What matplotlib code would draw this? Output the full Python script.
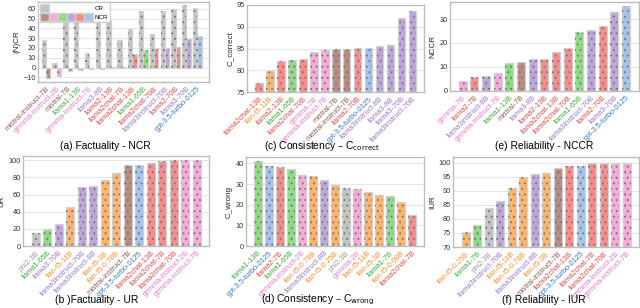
import numpy as np
import matplotlib
matplotlib.use('Agg')
import matplotlib.pyplot as plt
from matplotlib.patches import Patch
from matplotlib.legend_handler import HandlerTuple

plt.rcParams['font.family'] = ['Liberation Sans', 'DejaVu Sans']
plt.rcParams['hatch.linewidth'] = 0.7

# bar fill / label colour per model family
bar_col = {'mistral': '#b98c82', 'gemma': '#f5aad7', 'llama1': '#8cdc82',
           'llama2': '#f88c8c', 'llama3': '#bea5dc', 'flan': '#ffb46e',
           'gpt': '#a5c3eb', 'phi': '#c4c4c4'}
txt_col = {'mistral': '#8c5a4e', 'gemma': '#e67ac8', 'llama1': '#3caa3c',
           'llama2': '#e34848', 'llama3': '#9678c8', 'flan': '#ff8c28',
           'gpt': '#3278c8', 'phi': '#999999'}


def fam(name):
    for k in ['mistral', 'gemma', 'llama1', 'llama2', 'llama3', 'flan', 'gpt', 'phi']:
        if name.startswith(k):
            return k
    return 'phi'


# ----- data -----
a_models = ['mistral-instruct-7B', 'gemma-instruct-2B', 'mistral-7B', 'llama1-13B',
            'gemma-instruct-7B', 'llama3-8B', 'llama2-13B', 'llama2chat-7B',
            'llama2chat-13B', 'llama1-65B', 'llama2chat-70B', 'llama3instruct-70B',
            'llama2-70B', 'llama3-70B', 'gpt-3.5-turbo-0125']
a_cr = [28.5, 4.5, 47, 47.5, 14.5, 48, 49, 28, 39.5, 57.5, 34.5, 58, 59.5, 63.5, 61]
a_ncr = [-11, -9, -3.5, -2.5, -2, -1, 1, 1, 14, 18, 19.5, 20, 21.5, 29.5, 32]

b_models = ['phi2-3B', 'llama1-65B', 'llama3-70B', 'flan-t5-11B', 'llama3instruct-70B',
            'llama3instruct-8B', 'flan-t5-3B', 'flan-t5-0.78B', 'mistral-instruct-7B',
            'gpt-3.5-turbo-0125', 'llama2chat-13B', 'llama2chat-7B', 'llama2chat-70B',
            'gemma-instruct-2B', 'gemma-instruct-7B']
b_ur = [15, 19.5, 26, 45.5, 68.5, 69.5, 76.5, 85.5, 94, 95, 96.5, 99, 99.8, 100, 100]

c_models = ['llama2chat-13B', 'flan-t5-11B', 'llama2-13B', 'llama1-65B', 'llama2chat-70B',
            'gemma-7B', 'gemma-instruct-7B', 'mistral-7B', 'mistral-instruct-7B',
            'llama2-70B', 'gpt-3.5-turbo-0125', 'llama3instruct-8B', 'llama3-8B',
            'llama3-70B', 'llama3instruct-70B']
c_correct = [77, 79.9, 82.1, 82.4, 82.5, 84.3, 84.7, 84.9, 85.0, 85.1, 85.2, 85.5, 85.9, 92.1, 93.6]

d_models = ['llama1-13B', 'gpt-3.5-turbo-0125', 'llama2-7B', 'llama1-65B',
            'gemma-instruct-2B', 'flan-t5-0.78B', 'llama3instruct-8B', 'flan-t5-0.25B',
            'phi2-3B', 'gemma-2B', 'flan-t5-11B', 'flan-t5-3B', 'llama1-7B',
            'flan-t5-0.08B', 'llama2chat-7B']
d_wrong = [41, 38.6, 38.1, 37.2, 34.2, 34, 31.9, 29.4, 28.2, 27.4, 26.4, 24.6, 24.3, 21.1, 15.2]

e_models = ['gemma-7B', 'llama2-7B', 'llama3instruct-8B', 'gemma-instruct-7B',
            'llama1-13B', 'mistral-7B', 'llama3-8B', 'llama2-13B', 'llama2chat-13B',
            'llama2chat-70B', 'llama1-65B', 'llama3instruct-70B', 'llama2-70B',
            'llama3-70B', 'gpt-3.5-turbo-0125']
e_nccr = [4, 5.6, 6.4, 7.6, 11.8, 12, 13.1, 13.3, 16.1, 17.8, 24.4, 25.6, 27.2, 33.1, 35.4]

f_models = ['flan-t5-0.25B', 'llama1-7B', 'phi2-3B', 'llama3instruct-70B', 'flan-t5-11B',
            'flan-t5-0.78B', 'llama3instruct-8B', 'flan-t5-3B', 'mistral-instruct-7B',
            'llama2chat-13B', 'gpt-3.5-turbo-0125', 'llama2chat-7B', 'llama2chat-70B',
            'gemma-instruct-2B', 'gemma-instruct-7B']
f_iur = [75.3, 78, 83.8, 86.4, 91, 95, 96, 96.2, 98, 98.8, 99, 99.9, 99.9, 99.9, 99.9]


fig = plt.figure(figsize=(6.4, 3.08), dpi=100)
fs = 5.3


def style(ax, models, ylabel):
    x = np.arange(len(models))
    ax.tick_params(length=0, pad=1.5, labelsize=fs, labelcolor='#333333')
    ax.tick_params(axis='x', pad=2.5)
    ax.set_xticks(x)
    ax.set_xticklabels(models, rotation=45, ha='right', rotation_mode='anchor', fontsize=5.3)
    for lab, m in zip(ax.get_xticklabels(), models):
        lab.set_color(txt_col[fam(m)])
    ax.set_ylabel(ylabel, fontsize=5.8, labelpad=2, color='#222222')
    ax.grid(axis='y', color='#e6e6e6', lw=0.7, zorder=0)
    ax.set_axisbelow(True)
    for s in ax.spines.values():
        s.set_color('#bdbdbd')
        s.set_linewidth(1.0)


def dotbars(ax, x, vals, cols, w):
    ax.bar(x, vals, w, color=cols, edgecolor='#d2d2d2', linewidth=0.9, zorder=2)
    ax.bar(x, vals, w, color='none', edgecolor='#7a7a7a', hatch='...', linewidth=0, zorder=3)


def simple(rect, models, vals, ylabel, ylim=None, yticks=None):
    ax = fig.add_axes(rect)
    x = np.arange(len(models))
    dotbars(ax, x, vals, [bar_col[fam(m)] for m in models], 0.7)
    style(ax, models, ylabel)
    if ylim is not None:
        ax.set_ylim(*ylim)
    if yticks is not None:
        ax.set_yticks(yticks)
    return ax


# (a) factuality - NCR
axa = fig.add_axes([0.059, 0.734, 0.267, 0.26])
xa = np.arange(len(a_models))
dotbars(axa, xa - 0.2, a_cr, '#c4c4c4', 0.4)
dotbars(axa, xa + 0.2, a_ncr, [bar_col[fam(m)] for m in a_models], 0.4)
style(axa, a_models, '(N)CR')
axa.set_xlim(-0.75, 15.05)
axa.set_yticks([-10, 0, 10, 20, 30, 40, 50, 60])
nul = Patch(facecolor='none', edgecolor='none')
g = Patch(facecolor='#c4c4c4', edgecolor='#d2d2d2')
cps = tuple(Patch(facecolor=bar_col[k], edgecolor='#d2d2d2')
            for k in ['mistral', 'gemma', 'llama1', 'llama3', 'llama2', 'gpt'])
axa.legend([(g, nul, nul, nul, nul, nul), cps], ['CR', 'NCR'],
           handler_map={tuple: HandlerTuple(ndivide=None, pad=0)},
           loc='upper left', fontsize=4.5, handlelength=8.5, handleheight=1.6,
           borderaxespad=0.1, labelspacing=0.1, handletextpad=0.3, borderpad=0.25,
           framealpha=0.85, edgecolor='#cccccc', fancybox=False)

# (b) factuality - UR
simple([0.036, 0.201, 0.291, 0.2925], b_models, b_ur, 'UR',
       yticks=[0, 20, 40, 60, 80, 100])

# (c) consistency - C_correct
simple([0.386, 0.701, 0.277, 0.283], c_models, c_correct, 'C_correct',
       ylim=(75, 95), yticks=[75, 80, 85, 90, 95])

# (d) consistency - C_wrong
simple([0.384, 0.201, 0.278, 0.289], d_models, d_wrong, 'C_wrong',
       yticks=[0, 10, 20, 30, 40])

# (e) reliability - NCCR
simple([0.703, 0.705, 0.295, 0.289], e_models, e_nccr, 'NCCR',
       yticks=[0, 10, 20, 30])

# (f) reliability - IUR
simple([0.708, 0.198, 0.291, 0.292], f_models, f_iur, 'IUR',
       ylim=(70, 102), yticks=[70, 75, 80, 85, 90, 95, 100])

cap = 7.4
fig.text(105 / 640, 1 - 146 / 308, '(a) Factuality - NCR', ha='center', va='center', fontsize=cap)
fig.text(322 / 640, 1 - 146 / 308, r'(c) Consistency – C$_{\rm correct}$', ha='center', va='center', fontsize=cap)
fig.text(544 / 640, 1 - 146 / 308, '(e) Reliability - NCCR', ha='center', va='center', fontsize=cap)
fig.text(97 / 640, 1 - 300 / 308, '(b )Factuality - UR', ha='center', va='center', fontsize=cap)
fig.text(318 / 640, 1 - 300 / 308, r'(d) Consistency – C$_{\rm wrong}$', ha='center', va='center', fontsize=cap)
fig.text(544 / 640, 1 - 300 / 308, '(f) Reliability - IUR', ha='center', va='center', fontsize=cap)

fig.savefig('out.png', dpi=100)
